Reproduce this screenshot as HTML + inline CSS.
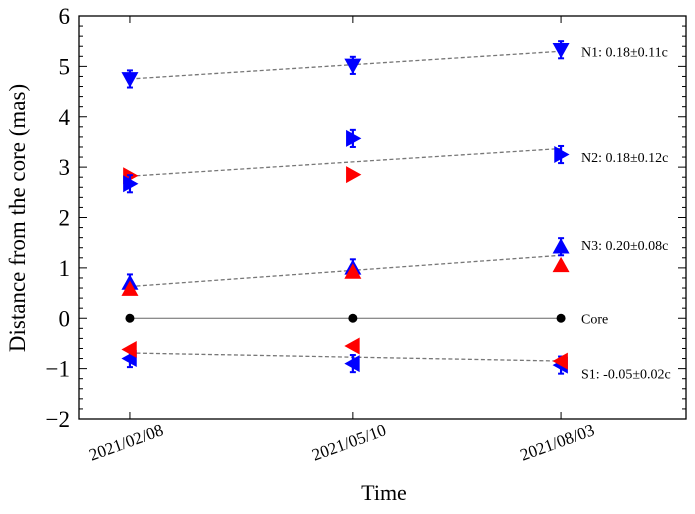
<!DOCTYPE html>
<html><head><meta charset="utf-8"><style>
body{margin:0;background:#fff}
svg{display:block;font-family:"Liberation Serif",serif}
</style></head><body>
<svg id="c" width="695" height="514"></svg>
<script>
const dates=["2021/02/08","2021/05/10","2021/08/03"];
const days=[0,91,176];
const yTicks=[-2,-1,0,1,2,3,4,5,6];
const n1Blue=[4.75,5.02,5.33];
const n2Blue=[2.67,3.57,3.25];
const n2Red=[2.83,2.85,null];
const n3Blue=[0.7,1.0,1.42];
const n3Red=[0.58,0.92,1.05];
const core=[0,0,0];
const s1Red=[-0.62,-0.55,-0.85];
const s1Blue=[-0.8,-0.9,-0.93];
const errs=[0.17,0.17,0.17];
const fitN1=[4.75,5.3];
const fitN2=[2.82,3.37];
const fitN3=[0.63,1.25];
const fitS1=[-0.69,-0.85];
const labels=["N1: 0.18±0.11c","N2: 0.18±0.12c","N3: 0.20±0.08c","Core","S1: -0.05±0.02c"];
const labelY=[5.3,3.2,1.45,0,-1.1];

const L=79,R=686,T=16,B=419;
const X=d=>L+(d+20.8)*(R-L)/(227+20.8);
const Y=v=>B-(v+2)*(B-T)/8;
const s=document.getElementById('c');
const NS="http://www.w3.org/2000/svg";
function mk(t,a,p){const e=document.createElementNS(NS,t);for(const k in a)e.setAttribute(k,a[k]);(p||s).appendChild(e);return e;}

for(const v of yTicks){
 const y=Y(v);
 mk('line',{x1:L,x2:L+8,y1:y,y2:y,stroke:'#000'});
 mk('line',{x1:R,x2:R-8,y1:y,y2:y,stroke:'#000'});
 const t=mk('text',{x:L-9,y:y+8,'text-anchor':'end','font-size':23});
 t.textContent=v<0?'\u2212'+(-v):v;
 
 
 if(v<6)for(let k=1;k<5;k++){const yy=Y(v+k*0.2);
  mk('line',{x1:L,x2:L+4,y1:yy,y2:yy,stroke:'#000'});
  mk('line',{x1:R,x2:R-4,y1:yy,y2:yy,stroke:'#000'});}
}
days.forEach((d,i)=>{
 const x=X(d);
 mk('line',{x1:x,x2:x,y1:B,y2:B-7,stroke:'#000'});
 mk('line',{x1:x,x2:x,y1:T,y2:T+7,stroke:'#000'});
 const t=mk('text',{x:x-4,y:448,'text-anchor':'middle','font-size':17,transform:`rotate(-20 ${x-4} 442)`});
 t.textContent=dates[i];
 
 
});
mk('rect',{x:L,y:T,width:R-L,height:B-T,fill:'none',stroke:'#000','stroke-width':1.3});

[fitN1,fitN2,fitN3,fitS1].forEach(f=>{
 const l=mk('line',{x1:X(days[0]),x2:X(days[2]),y1:Y(f[0]),y2:Y(f[1]),stroke:'#777','stroke-dasharray':'4,2.5','stroke-width':1.3});
 
 
});
mk('line',{x1:X(days[0]),x2:X(days[2]),y1:Y(0),y2:Y(0),stroke:'#666','stroke-width':1});

function tri(cx,cy,dir,col){
 const r=8.5;let p;
 if(dir=='down')p=[[cx-r,cy-r*0.8],[cx+r,cy-r*0.8],[cx,cy+r]];
 else if(dir=='up')p=[[cx-r,cy+r*0.8],[cx+r,cy+r*0.8],[cx,cy-r]];
 else if(dir=='right')p=[[cx-r*0.8,cy-r],[cx-r*0.8,cy+r],[cx+r,cy]];
 else p=[[cx+r*0.8,cy-r],[cx+r*0.8,cy+r],[cx-r,cy]];
 return mk('polygon',{points:p.map(a=>a.join(',')).join(' '),fill:col});
}
function series(vals,dir,col,name,err){
 vals.forEach((v,i)=>{
  if(v===null)return;
  const x=X(days[i]),y=Y(v);
  if(err){const e=errs[i];
   mk('line',{x1:x,x2:x,y1:Y(v-e),y2:Y(v+e),stroke:col,'stroke-width':2.2});
   mk('line',{x1:x-3,x2:x+3,y1:Y(v-e),y2:Y(v-e),stroke:col,'stroke-width':2});
   mk('line',{x1:x-3,x2:x+3,y1:Y(v+e),y2:Y(v+e),stroke:col,'stroke-width':2});}
  const m=tri(x,y,dir,col);
  
  
 });
}
series(n1Blue,'down','#0000ff','n1-point',true);
series(n2Red,'right','#ff0000','n2-red-point',false);
series(n2Blue,'right','#0000ff','n2-blue-point',true);
series(n3Blue,'up','#0000ff','n3-blue-point',true);
series(n3Red,'up','#ff0000','n3-red-point',false);
series(s1Blue,'left','#0000ff','s1-blue-point',true);
series(s1Red,'left','#ff0000','s1-red-point',false);
core.forEach((v,i)=>{const c=mk('circle',{cx:X(days[i]),cy:Y(v),r:4.5,fill:'#000'});
 
 });

labels.forEach((t,i)=>{const e=mk('text',{x:581,y:Y(labelY[i])+5,'font-size':14});e.textContent=t;
 
 });

const yt=mk('text',{x:0,y:0,'font-size':23,'text-anchor':'middle',transform:'translate(25 218) rotate(-90)'});
yt.textContent='Distance from the core (mas)';


const xt=mk('text',{x:384,y:500,'font-size':22,'text-anchor':'middle'});
xt.textContent='Time';


</script>
</body></html>
